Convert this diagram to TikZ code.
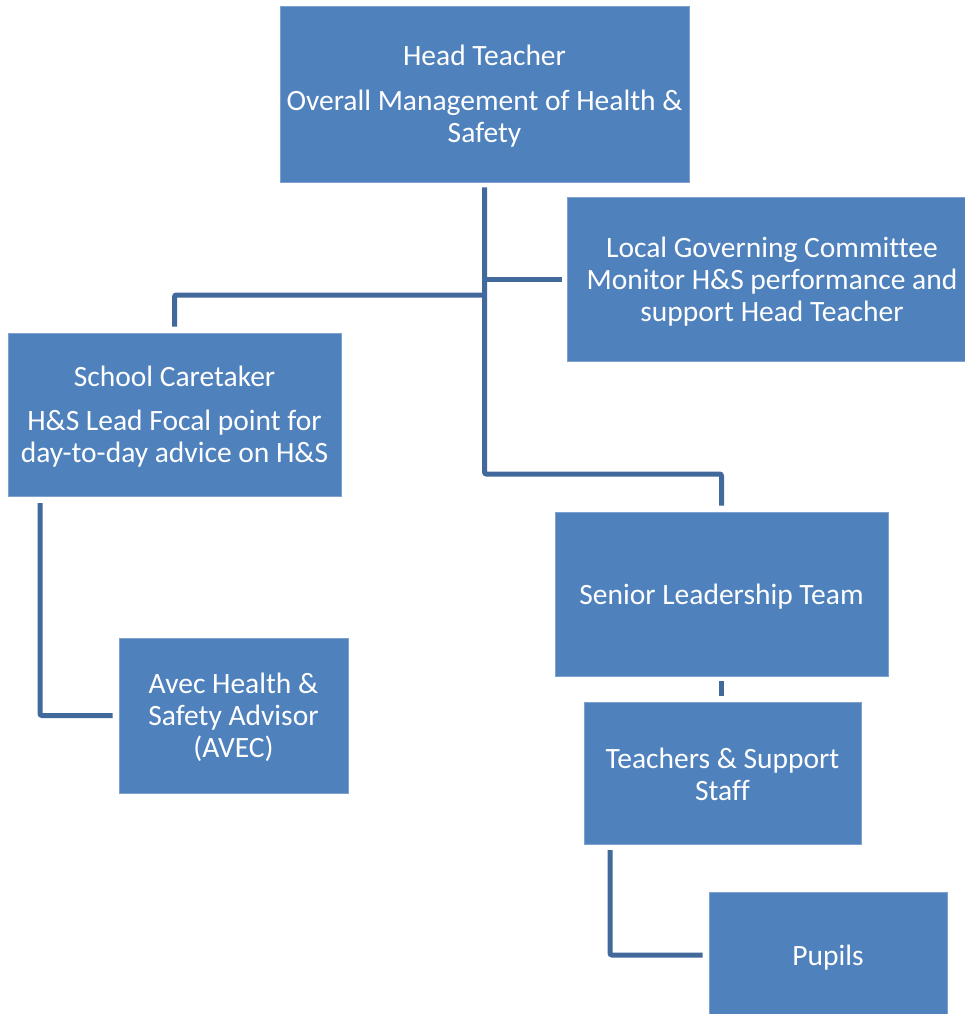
\documentclass[tikz,border=0pt]{standalone}
\usepackage{fontspec}
\setmainfont{Carlito}[Ligatures=NoCommon]
\usetikzlibrary{calc}
\definecolor{boxfill}{HTML}{4F81BD}
\definecolor{boxline}{HTML}{7EA1CF}
\definecolor{connc}{HTML}{41699C}
\tikzset{
  orgbox/.style={rectangle, fill=boxfill, draw=boxline, line width=0.8pt, inner sep=0pt},
  boxtext/.style={inner sep=0pt, text=white, align=center, font=\fontsize{29.5}{32}\selectfont},
  conn/.style={draw=connc, line width=5pt, rounded corners=2pt}
}
\begin{document}
\begin{tikzpicture}[x=1pt,y=-1pt]
\useasboundingbox (0,0) rectangle (965,1014);
\clip (0,0) rectangle (965,1014);
% boxes
\node[orgbox, minimum width=409pt, minimum height=176pt] (head) at (484.5,94) {};
\node[orgbox, minimum width=410pt, minimum height=164pt] (lgc) at (772,279) {};
\node[orgbox, minimum width=333pt, minimum height=163pt] (care) at (174.5,414.5) {};
\node[orgbox, minimum width=229pt, minimum height=155pt] (avec) at (233.5,715.5) {};
\node[orgbox, minimum width=333pt, minimum height=164pt] (slt) at (721.5,594) {};
\node[orgbox, minimum width=277pt, minimum height=142pt] (teach) at (722.5,773) {};
\node[orgbox, minimum width=238pt, minimum height=126pt] (pupils) at (828,955) {};
% texts
\node[boxtext] (headtxt) at ([yshift=-2pt]head.center)
  {Head Teacher\\[13pt]Overall Management of Health \&\\Safety};
\node[boxtext] (lgctxt) at ([yshift=-3pt]lgc.center)
  {Local Governing Committee\\Monitor H\&S performance and\\support Head Teacher};
\node[boxtext] (caretxt) at ([yshift=-2.5pt]care.center)
  {School Caretaker\\[12pt]H\&S Lead Focal point for\\day-to-day advice on H\&S};
\node[boxtext] (avectxt) at ([yshift=-2pt]avec.center)
  {Avec Health \&\\Safety Advisor\\(AVEC)};
\node[boxtext] (slttxt) at ([yshift=-3pt]slt.center) {Senior Leadership Team};
\node[boxtext] (teachtxt) at ([yshift=-1pt]teach.center) {Teachers \& Support\\Staff};
\node[boxtext] (pupilstxt) at ([yshift=-3pt]pupils.center) {Pupils};
% connectors
\coordinate (j1) at (485,474);
\coordinate (j2) at (485,295);
\coordinate (a1) at (40,503);
\coordinate (t1) at (610,850);
\draw[conn] ([yshift=-5pt]head.south) -- (head.south |- j1) -| ([yshift=6pt]slt.north);
\draw[conn] (head.south |- lgc.west) -- ([xshift=-5pt]lgc.west);
\draw[conn] (j2) -| ([yshift=6pt]care.north);
\draw[conn] (a1) |- ([xshift=-6pt]avec.west);
\draw[conn] ([yshift=-5pt]slt.south) -- ([yshift=6pt]slt.south |- teach.north);
\draw[conn] (t1) |- ([xshift=-6pt]pupils.west);
\end{tikzpicture}
\end{document}
